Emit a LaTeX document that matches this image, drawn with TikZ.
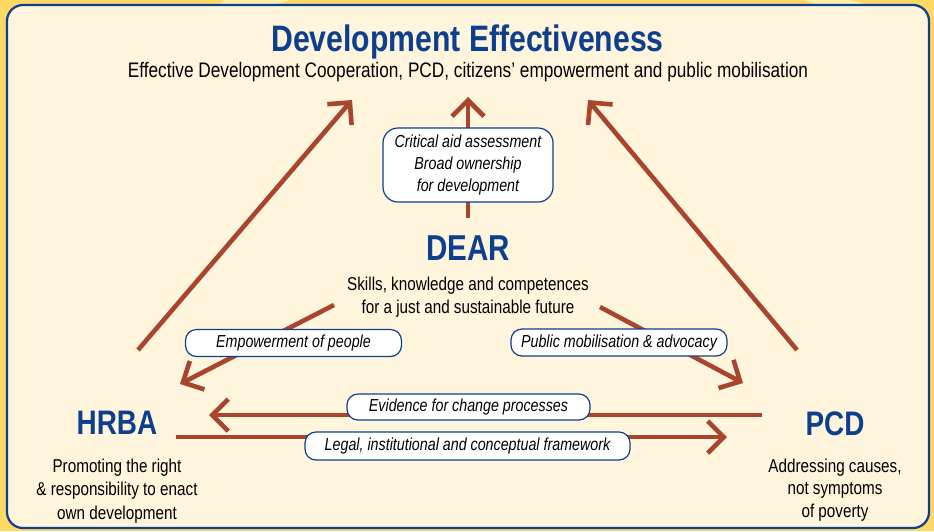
\documentclass[tikz,border=0pt]{standalone}
\usepackage{fontspec}
\setmainfont{Liberation Sans}[FakeStretch=0.82]
\usetikzlibrary{arrows.meta}
\definecolor{arr}{HTML}{A8452C}
\definecolor{dblue}{HTML}{0D3F8F}
\definecolor{cream}{HTML}{FFF5DC}
\definecolor{ygold}{HTML}{FDD865}
\definecolor{ylight}{HTML}{FFF0B0}
\begin{document}
\begin{tikzpicture}[x=1pt,y=-1pt,
  conn/.style={draw=arr, line width=4.6pt, -{Straight Barb[length=16pt,width=32pt]}},
  lbl/.style={draw=dblue, fill=white, line width=1.2pt, rounded corners=11pt,
    font=\fontsize{17.4}{22}\selectfont\itshape, inner sep=0pt, align=center},
  head/.style={text=dblue, font=\fontsize{34}{38}\selectfont\bfseries, inner sep=0pt},
  desc/.style={font=\fontsize{18.6}{23.5}\selectfont, align=center, inner sep=0pt}]
\useasboundingbox (0,0) rectangle (934,531);
% background
\fill[ygold] (0,0) rectangle (934,531);
\fill[ylight] (225,0) -- (290,0) -- (270,6) -- (215,6) -- cycle;
\fill[ylight] (805,0) -- (850,0) -- (870,6) -- (820,6) -- cycle;
\draw[dblue, line width=2.2pt, fill=cream, rounded corners=16pt] (7,5) rectangle (929,528);
% texts
\node[head, font=\fontsize{36.8}{40}\selectfont\bfseries] (de) at (467.5,42) {Development Effectiveness};
\node[desc, font=\fontsize{21}{24}\selectfont] (desub) at (468,72) {Effective Development Cooperation, PCD, citizens’ empowerment and public mobilisation};
\node[head, font=\fontsize{36}{40}\selectfont\bfseries] (dear) at (468,248) {DEAR};
\node[desc, font=\fontsize{18.6}{22.5}\selectfont] (dearsub) at (468,297) {Skills, knowledge and competences\\for a just and sustainable future};
\node[head] (hrba) at (117,423) {HRBA};
\node[desc] (hrbasub) at (117,491) {Promoting the right\\\& responsibility to enact\\own development};
\node[head] (pcd) at (835,424) {PCD};
\node[desc, font=\fontsize{18.6}{22.5}\selectfont] (pcdsub) at (835,490) {Addressing causes,\\not symptoms\\of poverty};
% arrow endpoints
\coordinate (a1s) at (138,350); \coordinate (a1e) at (352,100);
\coordinate (a2s) at (468,218); \coordinate (a2e) at (468,97);
\coordinate (a3s) at (797,350); \coordinate (a3e) at (588,100);
\coordinate (a4s) at (334,305); \coordinate (a4e) at (180,384);
\coordinate (a5s) at (600,307); \coordinate (a5e) at (743,383);
\coordinate (a6s) at (762,415); \coordinate (a6e) at (209,415);
\coordinate (a7s) at (176,437); \coordinate (a7e) at (727,437);
\draw[conn] (a1s) -- (a1e);
\draw[conn] (a2s) -- (a2e);
\draw[conn] (a3s) -- (a3e);
\draw[conn] (a4s) -- (a4e);
\draw[conn] (a5s) -- (a5e);
\draw[conn] (a6s) -- (a6e);
\draw[conn] (a7s) -- (a7e);
% labels
\node[lbl, minimum width=170pt, minimum height=74pt, rounded corners=15pt] (crit) at (468,165) {Critical aid assessment\\Broad ownership\\for development};
\node[lbl, minimum width=216pt, minimum height=27pt] (emp) at (293.5,343) {Empowerment of people};
\node[lbl, minimum width=216pt, minimum height=27pt] (pub) at (619,342.5) {Public mobilisation \& advocacy};
\node[lbl, minimum width=243pt, minimum height=26pt] (evi) at (468.5,407) {Evidence for change processes};
\node[lbl, minimum width=325pt, minimum height=28pt] (leg) at (467.5,446) {Legal, institutional and conceptual framework};
\end{tikzpicture}
\end{document}
